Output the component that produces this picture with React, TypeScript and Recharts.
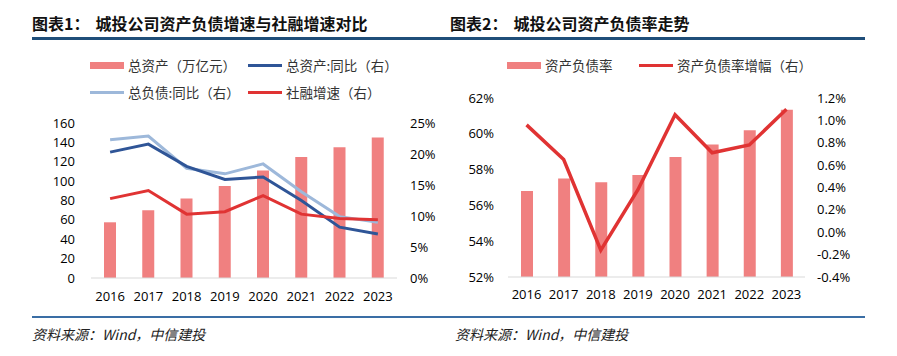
import React from 'react';
import { ComposedChart, Bar, Line, XAxis, YAxis } from 'recharts';

const years = ['2016', '2017', '2018', '2019', '2020', '2021', '2022', '2023'];

// 图表1
const totalAssets = [57.5, 70, 82, 95, 111, 125, 135, 145];
const assetGrowth = [20.3, 21.6, 18.0, 15.9, 16.3, 12.5, 8.2, 7.1];
const liabilityGrowth = [22.3, 22.9, 17.7, 16.8, 18.4, 13.9, 9.9, 9.0];
const tsfGrowth = [12.8, 14.1, 10.3, 10.7, 13.3, 10.3, 9.6, 9.4];
const leftTicks1 = [0, 20, 40, 60, 80, 100, 120, 140, 160];
const rightTicks1 = [0, 5, 10, 15, 20, 25];

// 图表2
const debtRatio = [56.8, 57.5, 57.3, 57.7, 58.7, 59.4, 60.2, 61.35];
const debtRatioChange = [0.96, 0.65, -0.16, 0.38, 1.05, 0.71, 0.78, 1.1];
const leftTicks2 = [52, 54, 56, 58, 60, 62];
const rightTicks2 = [-0.4, -0.2, 0, 0.2, 0.4, 0.6, 0.8, 1.0, 1.2];

const data1 = years.map((y, i) => ({
  year: y,
  assets: totalAssets[i],
  assetGrowth: assetGrowth[i],
  liabilityGrowth: liabilityGrowth[i],
  tsf: tsfGrowth[i],
}));

const data2 = years.map((y, i) => ({
  year: y,
  ratio: debtRatio[i],
  change: debtRatioChange[i],
}));

const BAR = '#F08080';
const DARK_BLUE = '#2F5597';
const LIGHT_BLUE = '#9DB8DA';
const RED = '#E03333';
const NUM_FONT = 'Open Sans, Liberation Sans, sans-serif';
const CJK_FONT = '"Noto Sans CJK SC", sans-serif';

const tickStyle = { fontSize: 13, fill: '#000', fontFamily: NUM_FONT };

const Title = ({ left, num, text }: { left: number; num: string; text: string }) => (
  <div
    style={{
      position: 'absolute',
      left,
      top: 12,
      fontFamily: CJK_FONT,
      fontWeight: 700,
      fontSize: 16,
      lineHeight: '22px',
      color: '#111',
      whiteSpace: 'nowrap',
    }}
  >
    {num}
    <span style={{ marginLeft: 6 }}>{text}</span>
  </div>
);

const LegendItem = ({
  left,
  top,
  color,
  label,
  bar,
}: {
  left: number;
  top: number;
  color: string;
  label: string;
  bar?: boolean;
}) => (
  <div
    style={{
      position: 'absolute',
      left,
      top,
      display: 'flex',
      alignItems: 'center',
      fontFamily: CJK_FONT,
      fontSize: 13.5,
      color: '#333',
      whiteSpace: 'nowrap',
      height: 20,
    }}
  >
    <div style={{ width: 34, height: bar ? 7 : 3, background: color, marginRight: 4 }} />
    {label}
  </div>
);

const Source = ({ left }: { left: number }) => (
  <div
    style={{
      position: 'absolute',
      left,
      top: 324,
      fontFamily: CJK_FONT,
      fontStyle: 'italic',
      fontSize: 14,
      lineHeight: '20px',
      color: '#222',
    }}
  >
    资料来源：Wind，中信建投
  </div>
);

export default function App() {
  return (
    <div
      style={{
        position: 'absolute',
        left: 0,
        top: 0,
        width: 897,
        height: 356,
        background: '#fff',
        overflow: 'hidden',
      }}
    >
      <Title left={32} num="图表1：" text="城投公司资产负债增速与社融增速对比" />
      <Title left={450} num="图表2：" text="城投公司资产负债率走势" />
      <div style={{ position: 'absolute', left: 32, top: 37, width: 833, height: 3, background: '#1F4E79' }} />
      <div style={{ position: 'absolute', left: 32, top: 316, width: 833, height: 2, background: '#3A6EA5' }} />

      <LegendItem left={90} top={55} color={BAR} label="总资产（万亿元）" bar />
      <LegendItem left={248} top={55} color={DARK_BLUE} label="总资产:同比（右）" />
      <LegendItem left={90} top={82} color={LIGHT_BLUE} label="总负债:同比（右）" />
      <LegendItem left={248} top={82} color={RED} label="社融增速（右）" />

      <LegendItem left={507} top={55} color={BAR} label="资产负债率" bar />
      <LegendItem left={639} top={55} color={RED} label="资产负债率增幅（右）" />

      <div style={{ position: 'absolute', left: 0, top: 0 }}>
        <ComposedChart
          width={450}
          height={320}
          data={data1}
          margin={{ top: 123, right: 8, bottom: 12, left: 31 }}
        >
          <XAxis
            dataKey="year"
            axisLine={{ stroke: '#D9D9D9' }}
            tickLine={false}
            tickSize={0}
            tickMargin={14}
            height={30}
            tick={tickStyle}
            interval={0}
          />
          <YAxis
            yAxisId="l"
            domain={[0, 160]}
            ticks={leftTicks1}
            axisLine={false}
            tickLine={false}
            tickSize={0}
            tickMargin={16}
            width={60}
            tick={tickStyle}
            interval={0}
          />
          <YAxis
            yAxisId="r"
            orientation="right"
            domain={[0, 25]}
            ticks={rightTicks1}
            axisLine={false}
            tickLine={false}
            tickSize={0}
            tickMargin={13}
            width={45}
            tick={{ ...tickStyle, textAnchor: 'start' }}
            tickFormatter={(v: number) => `${v}%`}
            interval={0}
          />
          <Bar yAxisId="l" dataKey="assets" fill={BAR} barSize={12} isAnimationActive={false} />
          <Line yAxisId="r" dataKey="liabilityGrowth" stroke={LIGHT_BLUE} strokeWidth={3} dot={false} isAnimationActive={false} />
          <Line yAxisId="r" dataKey="assetGrowth" stroke={DARK_BLUE} strokeWidth={3} dot={false} isAnimationActive={false} />
          <Line yAxisId="r" dataKey="tsf" stroke={RED} strokeWidth={3} dot={false} isAnimationActive={false} />
        </ComposedChart>
      </div>

      <div style={{ position: 'absolute', left: 440, top: 0 }}>
        <ComposedChart
          width={457}
          height={320}
          data={data2}
          margin={{ top: 98, right: 42, bottom: 13, left: 8 }}
        >
          <XAxis
            dataKey="year"
            axisLine={{ stroke: '#D9D9D9' }}
            tickLine={false}
            tickSize={0}
            tickMargin={13}
            height={30}
            tick={tickStyle}
            interval={0}
          />
          <YAxis
            yAxisId="l"
            domain={[52, 62]}
            ticks={leftTicks2}
            axisLine={false}
            tickLine={false}
            tickSize={0}
            tickMargin={14}
            width={60}
            tick={tickStyle}
            tickFormatter={(v: number) => `${v}%`}
            interval={0}
          />
          <YAxis
            yAxisId="r"
            orientation="right"
            domain={[-0.4, 1.2]}
            ticks={rightTicks2}
            axisLine={false}
            tickLine={false}
            tickSize={0}
            tickMargin={12}
            width={50}
            tick={{ ...tickStyle, textAnchor: 'start' }}
            tickFormatter={(v: number) => `${v.toFixed(1)}%`}
            interval={0}
          />
          <Bar yAxisId="l" dataKey="ratio" fill={BAR} barSize={12} isAnimationActive={false} />
          <Line yAxisId="r" dataKey="change" stroke={RED} strokeWidth={3.5} dot={false} isAnimationActive={false} />
        </ComposedChart>
      </div>

      <Source left={32} />
      <Source left={455} />
    </div>
  );
}
